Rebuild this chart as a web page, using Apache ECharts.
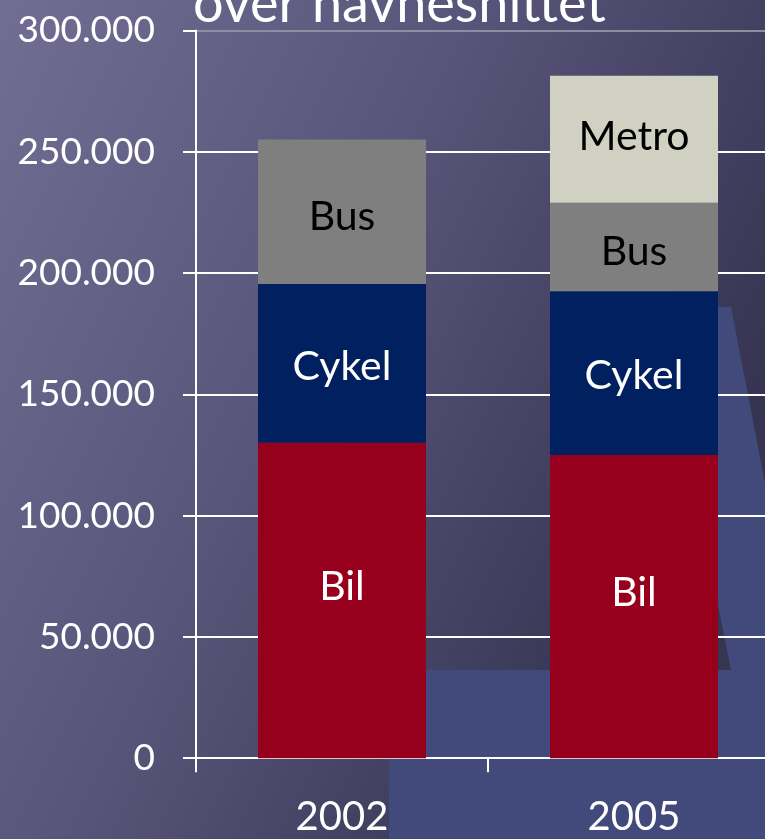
<!DOCTYPE html>
<html>
<head>
<meta charset="utf-8">
<script src="https://cdn.jsdelivr.net/npm/echarts@6/dist/echarts.min.js"></script>
<style>
  html, body { margin: 0; padding: 0; }
  #chart { width: 765px; height: 839px; }
</style>
</head>
<body>
<div id="chart"></div>
<script>
// data
const years = ['2002', '2005']
const bil = [130000, 125000]
const cykel = [65500, 67500]
const bus = [59500, 36500]
const metro = [null, 52300]
const yTicks = [0, 50000, 100000, 150000, 200000, 250000, 300000]

const FONT = 'Lato'

function fmt(v) {
  return v.toLocaleString('da-DK').replace(/,/g, '.')
}

function seg(name, data, color, textColor, offsetY) {
  return {
    name,
    type: 'bar',
    stack: 'total',
    barWidth: 168,
    data,
    itemStyle: { color },
    label: {
      show: true,
      position: 'inside',
      formatter: name,
      color: textColor,
      fontFamily: FONT,
      fontSize: 41,
      offset: [0, offsetY]
    }
  }
}

const chart = echarts.init(document.getElementById('chart'))

chart.setOption({
  animation: false,
  title: {
    text: 'over havnesnittet',
    left: 188,
    top: -27,
    textStyle: { color: '#fff', fontFamily: FONT, fontSize: 54, fontWeight: 'normal' }
  },
  graphic: [
    {
      type: 'rect',
      z: -100,
      shape: { x: 0, y: 0, width: 765, height: 839 },
      style: {
        fill: new echarts.graphic.LinearGradient(0, 0, 1, 0.45, [
          { offset: 0, color: '#716d93' },
          { offset: 0.5, color: '#58557a' },
          { offset: 1, color: '#363452' }
        ])
      }
    },
    {
      // blue backdrop shape, bottom right
      type: 'rect',
      z: -50,
      shape: { x: 389, y: 670, width: 400, height: 200, r: 16 },
      style: { fill: '#424a7b' }
    },
    {
      type: 'polygon',
      z: -50,
      shape: { points: [[712, 307], [731, 307], [765, 483], [765, 680], [712, 680]] },
      style: { fill: '#424a7b' }
    },
    {
      type: 'polygon',
      z: -49,
      shape: { points: [[712, 575], [731, 670], [712, 670]] },
      style: { fill: '#363552' }
    }
  ],
  grid: { left: 196, top: 30.4, width: 584, height: 727.8, outerBoundsMode: 'none' },
  xAxis: {
    type: 'category',
    data: years,
    axisLine: { lineStyle: { color: '#fff', width: 2 } },
    axisTick: { show: true, length: 14, lineStyle: { color: '#fff', width: 2 } },
    axisLabel: { color: '#fff', fontFamily: FONT, fontSize: 40, margin: 39 }
  },
  yAxis: {
    type: 'value',
    min: yTicks[0],
    max: yTicks[yTicks.length - 1],
    interval: yTicks[1] - yTicks[0],
    axisLine: { show: true, lineStyle: { color: '#fff', width: 2 } },
    axisTick: { show: true, length: 13, lineStyle: { color: '#fff', width: 2 } },
    axisLabel: {
      color: '#fff',
      fontFamily: FONT,
      fontSize: 37,
      margin: 41,
      formatter: fmt
    },
    splitLine: {
      lineStyle: {
        color: ['#fff', '#fff', '#fff', '#fff', '#fff', '#fff', '#8e8ea0'],
        width: 2
      }
    }
  },
  series: [
    seg('Bil', bil, '#96001c', '#fff', -14),
    seg('Cykel', cykel, '#00205f', '#fff', 3),
    seg('Bus', bus, '#7f7f7f', '#000', 5),
    seg('Metro', metro, '#d1d1c3', '#000', -2)
  ]
})
</script>
</body>
</html>
